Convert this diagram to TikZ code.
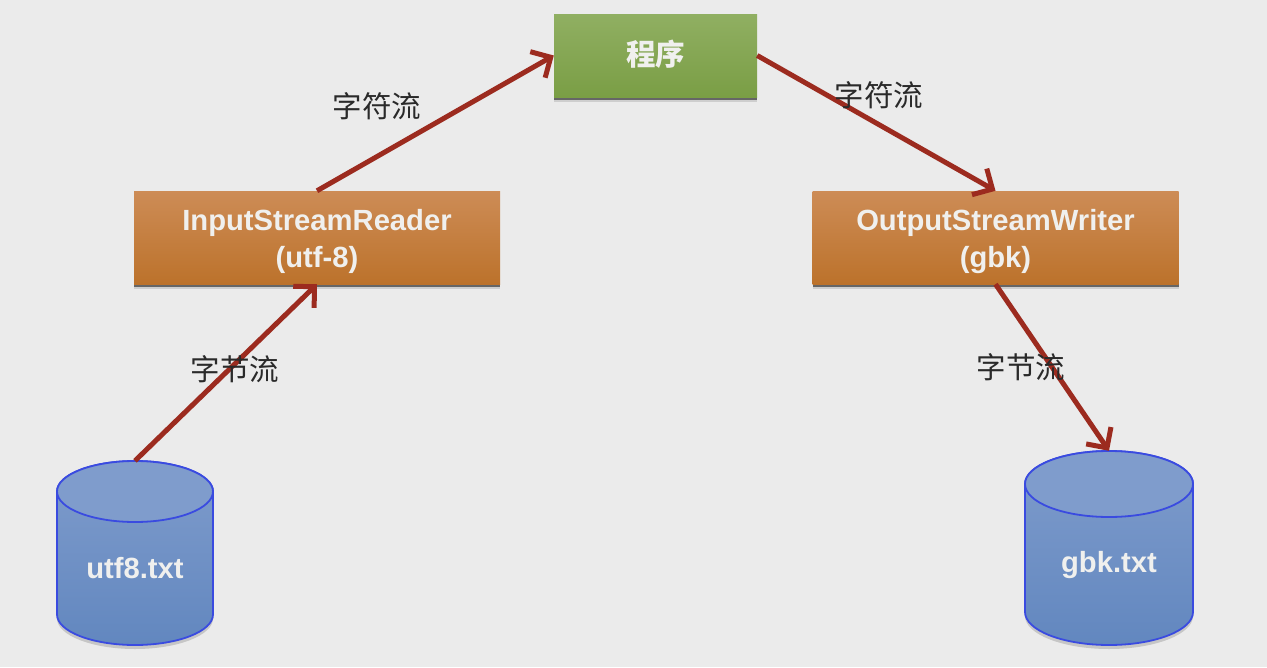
\documentclass[tikz,border=0pt]{standalone}
\usepackage{fontspec}
\setmainfont{Liberation Sans}
\newfontfamily\cjk{Noto Sans CJK SC}
\usetikzlibrary{arrows.meta,shadows,calc}
\definecolor{bgc}{HTML}{EBEBEB}
\definecolor{grT}{HTML}{90AF62}
\definecolor{grB}{HTML}{7A9E45}
\definecolor{orT}{HTML}{CD8C56}
\definecolor{orB}{HTML}{BC722B}
\definecolor{blT}{HTML}{7F9CCC}
\definecolor{blB}{HTML}{6287BF}
\definecolor{blL}{HTML}{3A4BE0}
\definecolor{arr}{HTML}{9C2B1F}
\definecolor{txtc}{HTML}{F0F0EE}
\definecolor{lbl}{HTML}{2A2A2A}
\tikzset{
  boxbase/.style={anchor=center,inner sep=0pt,align=center,text=txtc,
    font=\fontsize{29.2}{37}\selectfont\bfseries,
    general shadow={shadow xshift=0pt,shadow yshift=-5pt,fill=black!30,opacity=.5},
    general shadow={shadow xshift=0pt,shadow yshift=-3pt,fill=black!70,opacity=.8}},
  greenbox/.style={boxbase,top color=grT,bottom color=grB,minimum width=203pt,minimum height=83pt},
  orangebox/.style={boxbase,top color=orT,bottom color=orB,minimum width=366pt,minimum height=93pt},
  flow/.style={draw=arr,line width=5pt,-{Straight Barb[length=15pt,width=30pt,line width=5pt]}},
  flowlabel/.style={inner sep=0pt,text=lbl,font=\fontsize{29.5}{32}\selectfont\cjk},
  dbtext/.style={inner sep=0pt,text=txtc,font=\fontsize{29.2}{32}\selectfont\bfseries},
  dbline/.style={draw=blL,line width=1.8pt},
  dbanchor/.style={inner sep=0pt,minimum width=#1,minimum height=184pt}
}
\newcommand{\dbdraw}[5]{% cx, rx, top, ry, bottom
  \fill[black!40,opacity=.45] (#1-#2,#5-#4-6) -- (#1-#2,#5-#4+4) arc[start angle=180,end angle=360,x radius=#2,y radius=-#4] -- (#1+#2,#5-#4-6) -- cycle;
  \path[dbline,top color=blT,bottom color=blB] (#1-#2,#3+#4) -- (#1-#2,#5-#4)
     arc[start angle=180,end angle=360,x radius=#2,y radius=-#4] -- (#1+#2,#3+#4)
     arc[start angle=0,end angle=180,x radius=#2,y radius=-#4] -- cycle;
  \path[dbline,fill=blT] (#1,#3+#4) ellipse[x radius=#2,y radius=#4];
}
\begin{document}
\begin{tikzpicture}[x=1pt,y=-1pt]
\useasboundingbox[fill=bgc] (0,0) rectangle (1267,667);
\dbdraw{135}{78}{461}{30.5}{645}
\dbdraw{1109}{84}{451}{33}{645}
\node[dbanchor=156pt] (utf) at (135,553) {};
\node[dbanchor=168pt,minimum height=194pt] (gbk) at (1109,548) {};
\node[dbtext] (utft) at (135,568) {utf8.txt};
\node[dbtext] (gbkt) at (1109,565) {gbk.txt};
\node[greenbox] (prog) at (655.5,55.5) {\raisebox{1pt}[\height][\depth]{\cjk\fontsize{29.5}{32}\selectfont 程序}};
\node[orangebox] (isr) at (317,237.5) {\raisebox{-4pt}[\height][\depth]{\begin{tabular}{@{}c@{}}InputStreamReader\\[0pt](utf-8)\end{tabular}}};
\node[orangebox] (osw) at (995.5,237.5) {\raisebox{-4pt}[\height][\depth]{\begin{tabular}{@{}c@{}}OutputStreamWriter\\[0pt](gbk)\end{tabular}}};
\draw[flow] (utf.north) -- (isr.south);
\draw[flow] (isr.north) -- (prog.west);
\draw[flow] (prog.east) -- (osw.north);
\draw[flow] (osw.south) -- (gbk.north);
\node[flowlabel] (l1) at (235,369) {字节流};
\node[flowlabel] (l2) at (377,106) {字符流};
\node[flowlabel] (l3) at (879,95) {字符流};
\node[flowlabel] (l4) at (1021,367) {字节流};
\end{tikzpicture}
\end{document}
